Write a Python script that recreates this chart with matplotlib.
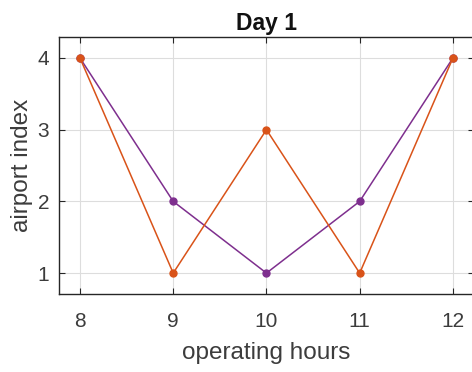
import numpy as np
import matplotlib
matplotlib.use("Agg")
import matplotlib.pyplot as plt

plt.rcParams["font.family"] = ["Liberation Sans", "DejaVu Sans"]

hours = [8, 9, 10, 11, 12]
purple_idx = [4, 2, 1, 2, 4]
orange_idx = [4, 1, 3, 1, 4]
x_ticks = [8, 9, 10, 11, 12]
y_ticks = [1, 2, 3, 4]

fig = plt.figure(figsize=(4.72, 3.72), dpi=100)
ax = fig.add_axes([0.125, 0.21, 0.879, 0.69])

ax.plot(hours, purple_idx, color="#7E2F8E", marker="o", markersize=5, linewidth=1.1)
ax.plot(hours, orange_idx, color="#D95319", marker="o", markersize=5, linewidth=1.1)

ax.set_xlim(7.775, 12.225)
ax.set_ylim(0.71, 4.29)
ax.set_xticks(x_ticks)
ax.set_yticks(y_ticks)
ax.grid(True, color="#dddddd", linewidth=0.8)
ax.set_axisbelow(True)
ax.tick_params(direction="in", top=True, right=True, length=4, width=0.8,
               labelsize=15, colors="#262626", labelcolor="#3c3c3c")
ax.tick_params(axis="x", pad=13)
ax.tick_params(axis="y", pad=7)
for s in ax.spines.values():
    s.set_color("#262626")
    s.set_linewidth(1.0)

ax.set_xlabel("operating hours", fontsize=17.5, color="#3c3c3c", labelpad=8)
ax.set_ylabel("airport index", fontsize=17.5, color="#3c3c3c", labelpad=3)
ax.set_title("Day 1", fontsize=16.5, fontweight="bold", color="#111111", pad=5)

fig.savefig("out.png", dpi=100)
